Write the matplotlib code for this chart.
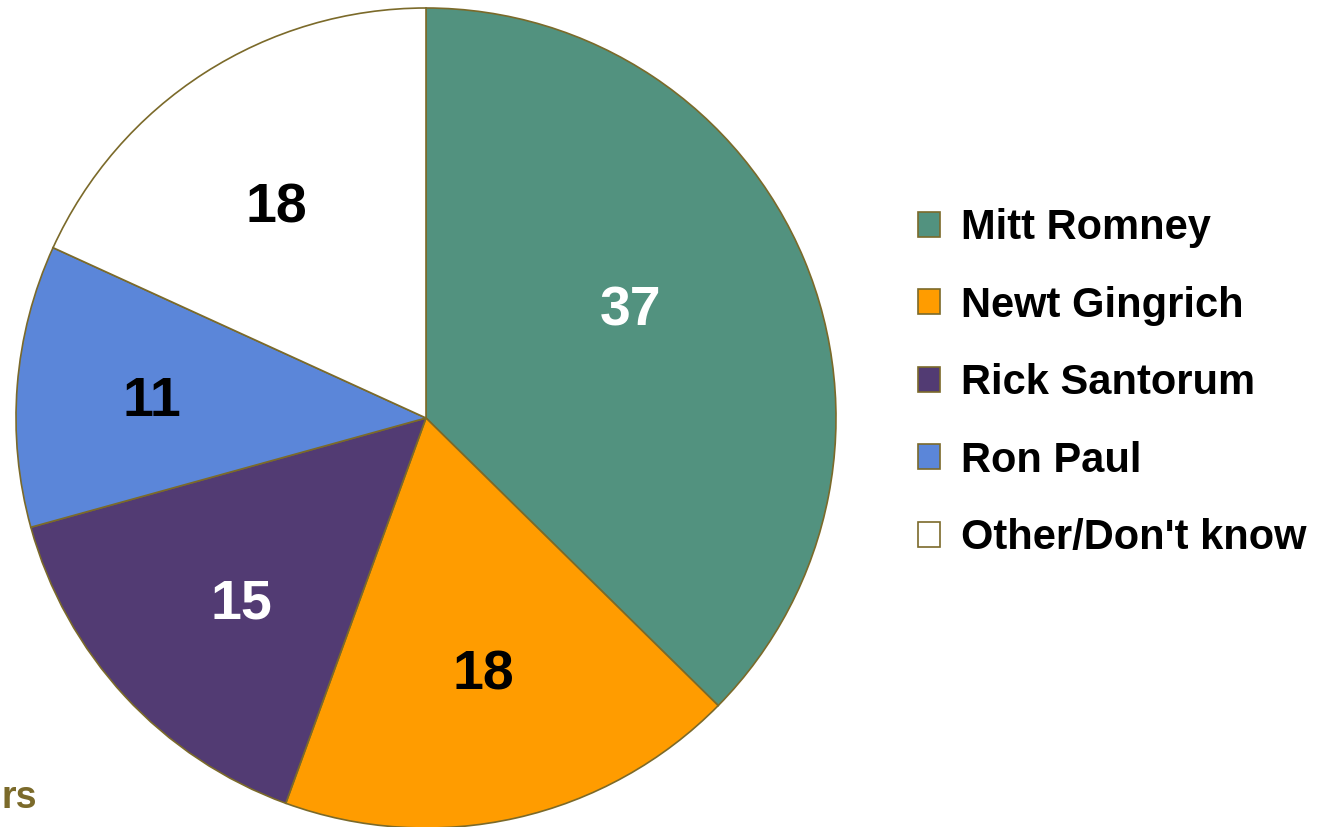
import numpy as np
import matplotlib.pyplot as plt
from matplotlib.patches import Patch

plt.rcParams['font.family'] = ['Liberation Sans', 'DejaVu Sans']

candidates = ['Mitt Romney', 'Newt Gingrich', 'Rick Santorum', 'Ron Paul', "Other/Don't know"]
shares = [37, 18, 15, 11, 18]
colors = ['#52927f', '#ff9c00', '#523b73', '#5b86d9', '#ffffff']
label_colors = ['white', 'black', 'white', 'black', 'black']
label_radius = [0.57, 0.63, 0.63, 0.67, 0.64]   # distance of value labels from centre
label_turn = [6, 0, 1.5, 0, 2]                   # small angle nudges (deg)
edge = '#7b6a2a'

W, H = 1330, 827
fig = plt.figure(figsize=(W / 100, H / 100), dpi=100)
# pie centre ~ (426, 418) px, radius ~ 410 px
R = 410
ax = fig.add_axes([(426 - R) / W, (H - 418 - R) / H, 2 * R / W, 2 * R / H])

wedges, _ = ax.pie(shares, colors=colors, startangle=90, counterclock=False,
                   radius=1, wedgeprops=dict(edgecolor=edge, linewidth=1.2))
ax.set_xlim(-1, 1)
ax.set_ylim(-1, 1)
ax.set_aspect('equal')
ax.axis('off')

for w, v, c, r, t in zip(wedges, shares, label_colors, label_radius, label_turn):
    ang = np.deg2rad((w.theta1 + w.theta2) / 2 + t)
    ax.text(r * np.cos(ang), r * np.sin(ang), str(v), ha='center', va='center_baseline',
            fontsize=40, fontweight='bold', color=c)

handles = [Patch(facecolor=c, edgecolor=edge, linewidth=1.2) for c in colors]
fig.legend(handles, candidates, loc='upper left',
           bbox_to_anchor=(918 / W, 1 - 208 / H), frameon=False,
           prop=dict(size=30, weight='bold'), handlelength=0.53, handleheight=0.53,
           handletextpad=0.5, labelspacing=0.9, borderpad=0, borderaxespad=0)

# only the tail of this note is visible in the original
fig.text(1 / W, 1 - 808 / H, 'rs', ha='left', va='baseline',
         fontsize=27, fontweight='bold', color='#7b6a2a')

fig.savefig('out.png', dpi=100)
